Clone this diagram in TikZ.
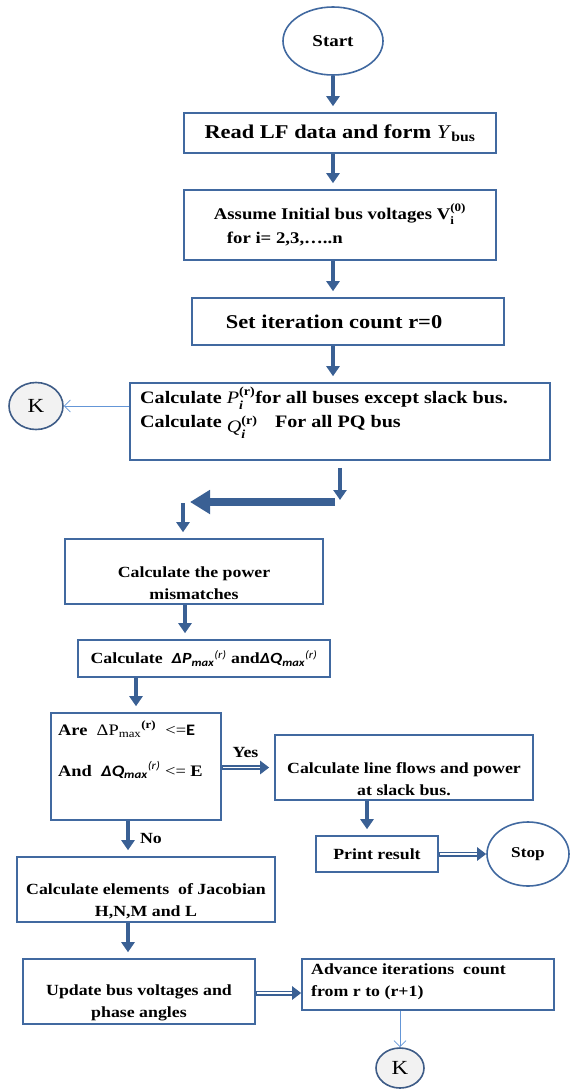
\documentclass[tikz,border=0pt]{standalone}
\usepackage{fontspec}
\setmainfont{Liberation Serif}[FakeStretch=1.15]
\newfontfamily\calib{Carlito}[FakeStretch=1.15]
\usetikzlibrary{arrows.meta,positioning,shapes.geometric}
\definecolor{boxblue}{RGB}{65,105,160}
\definecolor{arrblue}{RGB}{58,96,148}
\definecolor{thinblue}{RGB}{100,150,215}
\definecolor{kfill}{RGB}{242,242,242}
\definecolor{kline}{RGB}{62,92,135}
\newcommand{\supsb}[2]{\makebox[0pt][l]{\raisebox{-2.5pt}{\textsubscript{#2}}}\raisebox{2pt}{\textsuperscript{#1}}}
\newcommand{\dmx}[1]{{\calib\bfseries\itshape Δ#1\textsubscript{max}\textsuperscript{\mdseries(r)}}}

\begin{document}
\begin{tikzpicture}[x=1pt,y=-1pt,
  box/.style={draw=boxblue,line width=1.6pt,fill=white,inner sep=0pt,align=center,
    font=\bfseries\fontsize{15.5}{22}\selectfont},
  wh/.style 2 args={minimum width=#1,minimum height=#2},
  term/.style={ellipse,draw=boxblue,line width=1.6pt,fill=white,inner sep=0pt},
  kcirc/.style={ellipse,draw=kline,line width=1.6pt,fill=kfill,inner sep=0pt,
    font=\fontsize{20}{24}\selectfont},
  txt/.style={inner sep=0pt,align=center,font=\bfseries\fontsize{15.5}{22}\selectfont},
  blk/.style={draw=arrblue,line width=4pt,-{Triangle[width=13pt,length=10pt]},shorten >=6pt},
  bigblk/.style={draw=arrblue,line width=8pt,-{Triangle[width=23pt,length=20pt]}},
  dbl/.style={draw=arrblue,line width=5pt,-{Triangle[width=13pt,length=9pt]},
    postaction={draw=white,line width=1.3pt,-,shorten <=1pt,shorten >=9pt}},
  thin/.style={draw=thinblue,line width=0.8pt,-{Straight Barb[width=12pt,length=6pt]}}]
  \useasboundingbox (0,0) rectangle (570,1090);

  % main column
  \node[term,wh={100}{68},font=\bfseries\fontsize{16.5}{20}\selectfont] (start) at (333,41) {Start};
  \node[box,wh={312}{40},font=\bfseries\fontsize{19.5}{24}\selectfont] (read) at (340,133)
    {Read LF data and form \textit{\mdseries Y}\textsubscript{bus}};
  \node[box,wh={312}{70},align=left,font=\bfseries\fontsize{16.3}{24}\selectfont] (assume) at (340,225)
    {Assume Initial bus voltages V\supsb{(0)}{i}\\\hspace*{13pt}for i= 2,3,…..n};
  \node[box,wh={312}{47}] (iter) at (348,321.5) {};
  \node[txt,font=\bfseries\fontsize{19.5}{24}\selectfont] (itertxt) at (334,322) {Set iteration count r=0};
  \node[box,wh={420}{77}] (calcpq) at (340,421.5) {};
  \node[txt,align=left,anchor=north west,font=\bfseries\fontsize{17.5}{24}\selectfont] (calcpqtxt) at (140,387)
    {Calculate \textit{\mdseries P}\supsb{(r)}{\textit{i}}for all buses except slack bus.\\
     Calculate \raisebox{-5pt}{\textit{\mdseries Q}\supsb{(r)}{\textit{i}}}\quad For all PQ bus};
  \node[kcirc,wh={54}{47}] (kone) at (36,406) {K};

  % mismatch loop
  \node[box,wh={258}{65}] (mism) at (194,571.5) {};
  \node[txt] (mismtxt) at (194,583) {Calculate the power\\mismatches};
  \node[box,wh={252}{37},font=\bfseries\fontsize{15.5}{22}\selectfont] (dmax) at (204,658.5)
    {Calculate \ \dmx{P} and\dmx{Q}};
  \node[box,wh={170}{107}] (check) at (136,766.5) {};
  \node[txt,align=left,anchor=north west,font=\bfseries\fontsize{16}{22}\selectfont] (checktxt) at (58,721)
    {Are \ {\mdseries ΔP\textsubscript{max}}\textsuperscript{(r)} \ {\mdseries <=}{\calib E}\\[19pt]
     And \ \dmx{Q} {\mdseries <=} E};
  \node[box,wh={258}{65}] (flows) at (404,767.5) {};
  \node[txt] (flowstxt) at (404,779) {Calculate line flows and power\\at slack bus.};
  \node[box,wh={122}{36}] (print) at (377,854) {Print result};
  \node[term,wh={82}{64},font=\bfseries\fontsize{15}{18}\selectfont] (stop) at (528,854) {Stop};

  % Newton update
  \node[box,wh={258}{65}] (jacob) at (146,889.5) {};
  \node[txt] (jacobtxt) at (146,901.5) {Calculate elements\ \ of Jacobian\\H,N,M and L};
  \node[box,wh={232}{65}] (update) at (139,991.5) {};
  \node[txt] (updatetxt) at (139,1003) {Update bus voltages and\\phase angles};
  \node[box,wh={252}{51}] (advance) at (428,984.5) {};
  \node[txt,align=left,anchor=north west] (advancetxt) at (311,964) {Advance iterations\ \ count\\from r to (r+1)};
  \node[kcirc,wh={48}{40}] (ktwo) at (400,1068) {K};

  \coordinate (j1) at (340,502);
  \coordinate (j2) at (190,502);
  \coordinate (j3) at (183,503);

  % connectors
  \draw[blk] (start.south) -- (start.south |- read.north);
  \draw[blk] (read.south -| start) -- (start |- assume.north);
  \draw[blk] (assume.south -| start) -- (start |- iter.north);
  \draw[blk] (iter.south -| start) -- (start |- calcpq.north);
  \draw[thin] (calcpq.west |- kone) -- (kone.east);
  \draw[blk,shorten <=7pt,shorten >=0pt] (calcpq.south -| j1) -- ([yshift=2pt]j1);
  \draw[bigblk] ([xshift=-5pt]j1) -- (j2);
  \draw[blk] (j3) -- (j3 |- mism.north);
  \draw[blk] ([xshift=-9pt]mism.south) -- ([xshift=-9pt]mism.south |- dmax.north);
  \draw[blk] (check.north |- dmax.south) -- (check.north);
  \draw[dbl] (check.east |- flows.west) -- ([xshift=-5pt]flows.west)
    node[midway,above=7pt,txt] (yes) {Yes};
  \draw[blk] ([xshift=-37pt]flows.south) -- ([xshift=-37pt]flows.south |- print.north);
  \draw[dbl] (print.east) -- (stop.west);
  \draw[blk] ([xshift=-8pt]check.south) -- ([xshift=-8pt]check.south |- jacob.north)
    node[midway,right=10pt,txt] (no) {No};
  \draw[blk] ([xshift=-18pt]jacob.south) -- ([xshift=-18pt]jacob.south |- update.north);
  \draw[dbl] ([yshift=-1.5pt]update.east) -- ([yshift=-1.5pt]update.east -| advance.west);
  \draw[thin] (ktwo.north |- advance.south) -- (ktwo.north);
\end{tikzpicture}
\end{document}
